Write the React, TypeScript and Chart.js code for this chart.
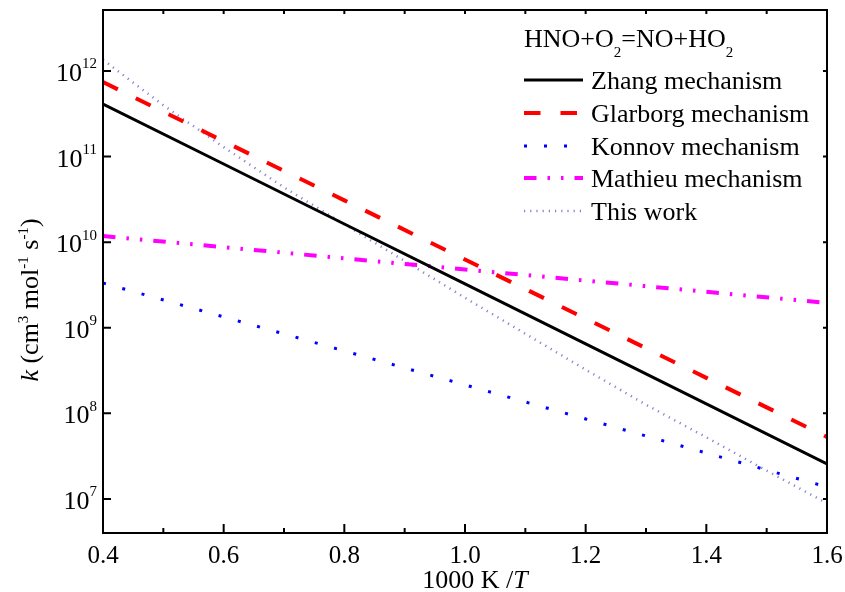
import React, { useEffect, useRef } from 'react';
import { Chart, registerables } from 'chart.js';

Chart.register(...registerables);

// ---- data ----
const X_MECH = [0.4, 0.6, 0.8, 1.0, 1.2, 1.4, 1.6];
const ZHANG = [4.11e11, 8.19e10, 1.63e10, 3.25e9, 6.47e8, 1.29e8, 2.56e7];
const GLARBORG = [7.41e11, 1.51e11, 3.08e10, 6.27e9, 1.28e9, 2.6e8, 5.3e7];
const KONNOV = [3.33e9, 1.34e9, 5.36e8, 2.15e8, 8.6e7, 3.44e7, 1.38e7];
const MATHIEU = [1.18e10, 8.75e9, 6.47e9, 4.8e9, 3.56e9, 2.63e9, 1.95e9];
const X_THIS = [0.4, 0.5, 0.6, 0.7, 0.8, 0.9, 1.0, 1.1, 1.2, 1.3, 1.4, 1.5, 1.6];
const THIS_WORK = [1.35e12, 3.98e11, 1.29e11, 4.37e10, 1.62e10, 6.03e9, 2.24e9, 8.51e8, 3.24e8, 1.26e8, 5.25e7, 2.14e7, 8.9e6];

const SERIES_LABELS = ['Zhang mechanism', 'Glarborg mechanism', 'Konnov mechanism', 'Mathieu mechanism', 'This work'];

const X_MIN = 0.4;
const X_MAX = 1.6;
const Y_MIN = 4.0e6;
const Y_MAX = 5.16e12;
const X_MAJOR_TICKS = [0.4, 0.6, 0.8, 1.0, 1.2, 1.4, 1.6];
const X_TICK_LABELS = ['0.4', '0.6', '0.8', '1.0', '1.2', '1.4', '1.6'];
const X_MINOR_TICKS = [0.5, 0.7, 0.9, 1.1, 1.3, 1.5];
const Y_EXPONENTS = [7, 8, 9, 10, 11, 12];

const FONT = "'Liberation Serif', 'Times New Roman', serif";

function pts(xs: number[], ys: number[]) {
  return xs.map((x, i) => ({ x, y: ys[i] }));
}

const decorPlugin = {
  id: 'decor',
  afterDatasetsDraw(chart: any) {
    const ctx: CanvasRenderingContext2D = chart.ctx;
    const { left, right, top, bottom } = chart.chartArea;
    const xs = chart.scales.x;
    const ys = chart.scales.y;
    ctx.save();
    ctx.setLineDash([]);
    // frame
    ctx.strokeStyle = '#000';
    ctx.lineWidth = 2;
    ctx.strokeRect(left, top, right - left, bottom - top);
    // ticks
    ctx.lineWidth = 2;
    ctx.beginPath();
    X_MAJOR_TICKS.forEach((v) => {
      const px = xs.getPixelForValue(v);
      ctx.moveTo(px, bottom);
      ctx.lineTo(px, bottom - 9);
      ctx.moveTo(px, top);
      ctx.lineTo(px, top + 4);
    });
    X_MINOR_TICKS.forEach((v) => {
      const px = xs.getPixelForValue(v);
      ctx.moveTo(px, bottom);
      ctx.lineTo(px, bottom - 5);
      ctx.moveTo(px, top);
      ctx.lineTo(px, top + 4);
    });
    Y_EXPONENTS.forEach((e) => {
      const py = ys.getPixelForValue(Math.pow(10, e));
      ctx.moveTo(left, py);
      ctx.lineTo(left + 8, py);
      ctx.moveTo(right, py);
      ctx.lineTo(right - 4, py);
    });
    ctx.stroke();

    ctx.fillStyle = '#000';
    ctx.textBaseline = 'alphabetic';
    // x tick labels
    ctx.font = `25px ${FONT}`;
    ctx.textAlign = 'center';
    X_MAJOR_TICKS.forEach((v, i) => {
      ctx.fillText(X_TICK_LABELS[i], xs.getPixelForValue(v), bottom + 30);
    });
    // y tick labels 10^n
    ctx.textAlign = 'left';
    Y_EXPONENTS.forEach((e) => {
      const py = ys.getPixelForValue(Math.pow(10, e));
      ctx.font = `26px ${FONT}`;
      const w1 = ctx.measureText('10').width;
      ctx.font = `15px ${FONT}`;
      const sup = String(e);
      const w2 = ctx.measureText(sup).width;
      const x0 = left - 6 - w1 - w2;
      ctx.font = `26px ${FONT}`;
      ctx.fillText('10', x0, py + 10);
      ctx.font = `15px ${FONT}`;
      ctx.fillText(sup, x0 + w1, py - 2.5);
    });

    // x axis title: 1000 K /T
    ctx.font = `26px ${FONT}`;
    const part1 = '1000 K /';
    const w1 = ctx.measureText(part1).width;
    ctx.font = `italic 26px ${FONT}`;
    const wT = ctx.measureText('T').width;
    const xStart = (left + right) / 2 + 10 - (w1 + wT) / 2;
    ctx.font = `26px ${FONT}`;
    ctx.fillText(part1, xStart, bottom + 55);
    ctx.font = `italic 26px ${FONT}`;
    ctx.fillText('T', xStart + w1, bottom + 55);

    // y axis title: k (cm3 mol-1 s-1)
    const parts: [string, string, number][] = [
      ['k', 'italic 26px', 0],
      [' (cm', '26px', 0],
      ['3', '15px', -10],
      [' mol', '26px', 0],
      ['-1', '15px', -10],
      [' s', '26px', 0],
      ['-1', '15px', -10],
      [')', '26px', 0],
    ];
    let total = 0;
    parts.forEach(([t, f]) => {
      ctx.font = `${f} ${FONT}`;
      total += ctx.measureText(t).width;
    });
    ctx.save();
    ctx.translate(38, 300 + total / 2);
    ctx.rotate(-Math.PI / 2);
    let cx = 0;
    parts.forEach(([t, f, dy]) => {
      ctx.font = `${f} ${FONT}`;
      ctx.fillText(t, cx, dy);
      cx += ctx.measureText(t).width;
    });
    ctx.restore();

    // legend
    const lx0 = 524;
    const lx1 = 583;
    const tx = 591;
    // title HNO+O2=NO+HO2
    const titleParts: [string, boolean][] = [
      ['HNO+O', false],
      ['2', true],
      ['=NO+HO', false],
      ['2', true],
    ];
    let tcx = lx0;
    titleParts.forEach(([t, sub]) => {
      ctx.font = sub ? `15px ${FONT}` : `26px ${FONT}`;
      ctx.fillText(t, tcx, sub ? 57 : 47);
      tcx += ctx.measureText(t).width;
    });
    const rowY = [80, 113, 146, 178, 211];
    chart.data.datasets.forEach((ds: any, i: number) => {
      const y = rowY[i];
      ctx.save();
      ctx.strokeStyle = ds.borderColor;
      ctx.lineWidth = ds.borderWidth;
      ctx.lineCap = 'butt';
      ctx.setLineDash(ds.borderDash || []);
      ctx.beginPath();
      ctx.moveTo(lx0, y);
      ctx.lineTo(lx1, y);
      ctx.stroke();
      ctx.restore();
      ctx.font = `26px ${FONT}`;
      ctx.fillStyle = '#000';
      ctx.fillText(ds.label, tx, y + 9);
    });
    ctx.restore();
  },
};

export default function App() {
  const ref = useRef<HTMLCanvasElement | null>(null);
  useEffect(() => {
    if (!ref.current) return;
    const chart = new Chart(ref.current, {
      type: 'line',
      data: {
        datasets: [
          {
            label: SERIES_LABELS[0],
            data: pts(X_MECH, ZHANG),
            borderColor: '#000000',
            borderWidth: 3,
            borderDash: [],
          },
          {
            label: SERIES_LABELS[1],
            data: pts(X_MECH, GLARBORG),
            borderColor: '#ff0000',
            borderWidth: 4,
            borderDash: [16.5, 20],
          },
          {
            label: SERIES_LABELS[2],
            data: pts(X_MECH, KONNOV),
            borderColor: '#0000ff',
            borderWidth: 3,
            borderDash: [3, 17],
          },
          {
            label: SERIES_LABELS[3],
            data: pts(X_MECH, MATHIEU),
            borderColor: '#ff00ff',
            borderWidth: 4,
            borderDash: [12.5, 11, 2.5, 11, 2.5, 11],
          },
          {
            label: SERIES_LABELS[4],
            data: pts(X_THIS, THIS_WORK),
            borderColor: '#8585cf',
            borderWidth: 2.5,
            borderDash: [1.2, 5],
          },
        ] as any,
      },
      options: {
        responsive: false,
        animation: false,
        devicePixelRatio: 1,
        layout: { padding: { left: 103, top: 10, right: 18, bottom: 59 } },
        elements: {
          point: { radius: 0 },
          line: { tension: 0, borderCapStyle: 'butt', fill: false },
        },
        plugins: { legend: { display: false }, tooltip: { enabled: false } },
        scales: {
          x: { type: 'linear', display: false, min: X_MIN, max: X_MAX },
          y: { type: 'logarithmic', display: false, min: Y_MIN, max: Y_MAX },
        },
      },
      plugins: [decorPlugin],
    });
    return () => chart.destroy();
  }, []);
  return (
    <div style={{ position: 'absolute', left: 0, top: 0, width: 845, height: 592, background: '#fff' }}>
      <canvas ref={ref} width={845} height={592} style={{ display: 'block' }} />
    </div>
  );
}
